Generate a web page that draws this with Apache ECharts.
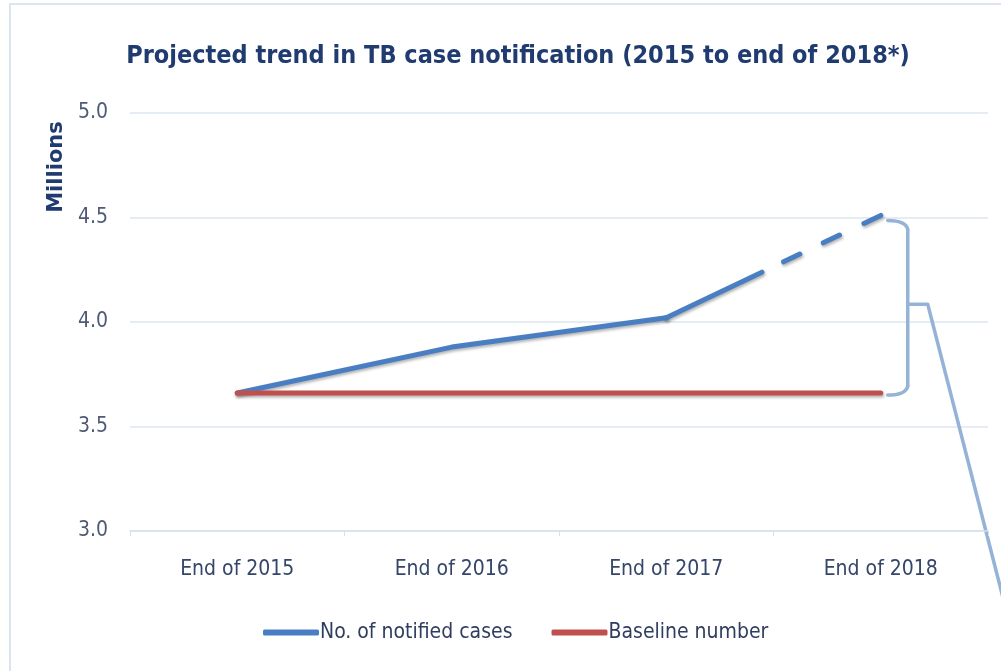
<!DOCTYPE html>
<html>
<head>
<meta charset="utf-8">
<script src="https://cdn.jsdelivr.net/npm/echarts@6/dist/echarts.min.js"></script>
<style>
  html, body { margin: 0; padding: 0; background: #ffffff; }
  #chart { width: 1001px; height: 671px; }
</style>
</head>
<body>
<div id="chart"></div>
<script>
// ---- data ----
const categories = ['End of 2015', 'End of 2016', 'End of 2017', 'End of 2018'];
const notifiedCases = [3.66, 3.88, 4.02, 4.51];   // millions
const baselineNumber = [3.66, 3.66, 3.66, 3.66];  // millions
const projectedFromIndex = 2;                      // dashed (projected) part starts after this point
const yTicks = { min: 3.0, max: 5.0, interval: 0.5 };
const titleText = 'Projected trend in TB case notification (2015 to end of 2018*)';
const yAxisTitle = 'Millions';

// ---- series built from data ----
const solidPart = notifiedCases.map((v, i) => (i <= projectedFromIndex ? v : null));
const projectedPart = notifiedCases.map((v, i) => (i >= projectedFromIndex ? v : null));

const BLUE = '#4a7ec3';
const RED = '#c0504d';
const BRACKET = '#95b3d7';
const NARROW = '"Liberation Sans Narrow", "Arial Narrow", "DejaVu Sans Condensed", sans-serif';
const shadow = { shadowColor: 'rgba(0,0,0,0.30)', shadowBlur: 3, shadowOffsetY: 2, shadowOffsetX: 1 };

const chart = echarts.init(document.getElementById('chart'), null, { renderer: 'canvas' });

chart.setOption({
  animation: false,
  backgroundColor: '#ffffff',
  title: {
    text: titleText,
    left: 513, top: 39, textAlign: 'center',
    textStyle: { fontFamily: NARROW, fontWeight: 'bold', fontSize: 25, color: '#1f3b6f' }
  },
  grid: { left: 130, right: 13, top: 113, bottom: 140, containLabel: false },
  xAxis: {
    type: 'category',
    data: categories,
    boundaryGap: true,
    axisLine: { show: true, lineStyle: { color: '#d6e0ec', width: 1.5 } },
    axisTick: { show: true, length: 5, lineStyle: { color: '#d6e0ec' } },
    axisLabel: { margin: 28, fontFamily: NARROW, fontSize: 21, color: '#34466a' }
  },
  yAxis: {
    type: 'value',
    min: yTicks.min, max: yTicks.max, interval: yTicks.interval,
    axisLine: { show: false },
    axisTick: { show: false },
    splitLine: { lineStyle: { color: '#dde6f1', width: 1.5 } },
    axisLabel: {
      margin: 22, fontFamily: NARROW, fontSize: 21, color: '#4d5b76',
      formatter: v => v.toFixed(1)
    }
  },
  legend: {
    left: 258, top: 617,
    itemWidth: 56, itemHeight: 6, itemGap: 39,
    textStyle: { fontFamily: NARROW, fontSize: 21, color: '#2f3d5e', padding: [0, 0, 0, -4] },
    data: [
      { name: 'No. of notified cases', icon: 'roundRect', itemStyle: { color: BLUE } },
      { name: 'Baseline number', icon: 'roundRect', itemStyle: { color: RED } }
    ]
  },
  series: [
    {
      name: 'No. of notified cases', type: 'line', data: solidPart,
      showSymbol: false, symbol: 'none', connectNulls: false, z: 2,
      lineStyle: Object.assign({ color: BLUE, width: 5, cap: 'round', join: 'round' }, shadow),
      itemStyle: { color: BLUE }
    },
    {
      name: 'No. of notified cases', type: 'line', data: projectedPart,
      showSymbol: false, symbol: 'none', connectNulls: false, z: 2,
      lineStyle: Object.assign({
        color: BLUE, width: 5, cap: 'round', join: 'round',
        type: [106, 24, 18, 26, 18, 27, 40]
      }, shadow),
      itemStyle: { color: BLUE }
    },
    {
      name: 'Baseline number', type: 'line', data: baselineNumber,
      showSymbol: false, symbol: 'none', z: 3,
      lineStyle: Object.assign({ color: RED, width: 5, cap: 'round' }, shadow),
      itemStyle: { color: RED }
    }
  ]
});

// ---- annotations placed from the data through the chart's own scales ----
const last = categories.length - 1;
const pTop = chart.convertToPixel({ gridIndex: 0 }, [last, notifiedCases[last]]);
const pBot = chart.convertToPixel({ gridIndex: 0 }, [last, baselineNumber[last]]);
const x0 = pTop[0] + 7, xv = pTop[0] + 27;
const yT = pTop[1] + 5, yB = pBot[1] + 1, mid = (yT + yB) / 2 - 3;
const xc = xv + 20;
const bStyle = { fill: 'none', stroke: BRACKET, lineWidth: 3.5, lineCap: 'round', lineJoin: 'round' };

chart.setOption({
  graphic: [
    {
      type: 'rect', silent: true, z: -1,
      shape: { x: 10, y: 4, width: 1200, height: 900 },
      style: { fill: 'none', stroke: '#dbe4ef', lineWidth: 2 }
    },
    {
      type: 'bezierCurve', silent: true,
      shape: { x1: x0, y1: yT, cpx1: xv - 2, cpy1: yT, x2: xv, y2: yT + 9 },
      style: bStyle
    },
    {
      type: 'line', silent: true,
      shape: { x1: xv, y1: yT + 9, x2: xv, y2: yB - 8 },
      style: bStyle
    },
    {
      type: 'bezierCurve', silent: true,
      shape: { x1: xv, y1: yB - 8, cpx1: xv - 2, cpy1: yB + 1, x2: x0, y2: yB + 1 },
      style: bStyle
    },
    {
      type: 'polyline', silent: true,
      shape: { points: [[xv, mid], [xc, mid], [xc + (671 - mid) / 3.9, 671]] },
      style: { fill: 'none', stroke: BRACKET, lineWidth: 3.5, lineJoin: 'round' }
    },
    {
      type: 'text', silent: true,
      x: 57, y: 167, rotation: Math.PI / 2,
      style: {
        text: yAxisTitle, align: 'center', verticalAlign: 'middle',
        fontFamily: '"DejaVu Sans", sans-serif', fontWeight: 'bold', fontSize: 21, fill: '#1f3b6f'
      }
    }
  ]
});
</script>
</body>
</html>
